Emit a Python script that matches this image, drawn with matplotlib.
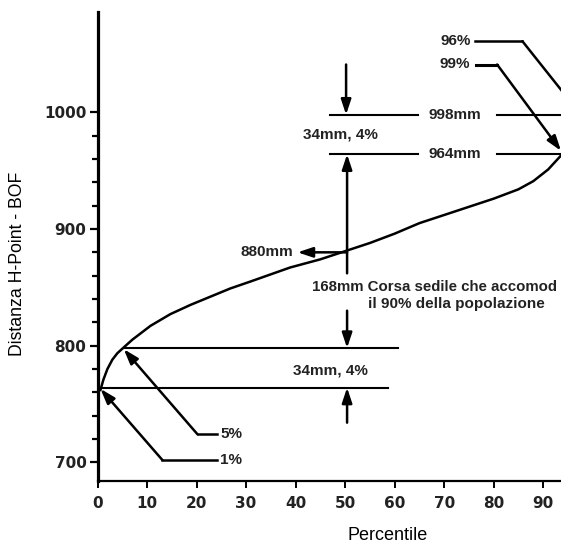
import matplotlib
matplotlib.use("Agg")
import matplotlib.pyplot as plt
from matplotlib.ticker import FixedLocator

# curve (percentile -> H-Point distance, mm)
percentile = [0.6, 1.2, 2.0, 3.0, 4.0, 5.3, 7.0, 10.7, 14.7, 18.8, 22.8, 26.8,
              30.9, 34.9, 38.9, 45, 50, 55, 60, 65, 70, 75, 80, 85, 88, 91, 93.6]
distance_mm = [762, 771, 780, 788, 793.5, 798.5, 805, 817, 827, 835, 842, 849,
               855, 861, 867, 874, 881, 888, 896, 905, 912, 919, 926, 934, 941, 951, 963]

x_ticks = [0, 10, 20, 30, 40, 50, 60, 70, 80, 90]
y_ticks = [700, 800, 900, 1000]
y_minor = [720, 740, 760, 780, 820, 840, 860, 880, 920, 940, 960, 980]

# reference levels (mm)
lvl_1, lvl_5, lvl_50, lvl_95, lvl_99 = 764, 798, 880, 964, 998

ANN = dict(family="Liberation Sans", fontweight="bold", fontsize=11, color="#222222")
ARROW = dict(arrowstyle="-|>,head_length=0.9,head_width=0.3", color="black",
             lw=1.8, shrinkA=0, shrinkB=0, mutation_scale=10)

fig = plt.figure(figsize=(5.61, 5.43), dpi=100)
ax = fig.add_axes([97.5 / 561, 1 - 481 / 543, 1 - 97.5 / 561, 469 / 543])

ax.plot(percentile, distance_mm, color="black", lw=1.8)

ax.set_xlim(0, 93.6)
ax.set_ylim(684, 1086)
ax.spines["top"].set_visible(False)
ax.spines["right"].set_visible(False)
ax.spines["left"].set_linewidth(2.3)
ax.spines["bottom"].set_linewidth(1.6)

ax.set_xticks(x_ticks)
ax.set_yticks(y_ticks)
ax.yaxis.set_minor_locator(FixedLocator(y_minor))
ax.tick_params(axis="y", which="major", length=6, width=1.6, pad=2)
ax.tick_params(axis="y", which="minor", length=4, width=1.6)
ax.tick_params(axis="x", which="major", length=5, width=1.4, pad=6)
for lab in ax.get_xticklabels() + ax.get_yticklabels():
    lab.set_family("DejaVu Sans")
    lab.set_fontweight("bold")
    lab.set_fontsize(11)
    lab.set_color("#222222")

ax.set_xlabel("Percentile", family="Liberation Sans", fontsize=13)
ax.xaxis.set_label_coords(0.626, -0.098)
ax.set_ylabel("Distanza H-Point - BOF", family="Liberation Sans", fontsize=12.7)
ax.yaxis.set_label_coords(-0.155, 0.464)

# upper levels 998 / 964
for lvl, txt in [(lvl_99, "998mm"), (lvl_95, "964mm")]:
    ax.plot([47.0, 64.8], [lvl, lvl], color="black", lw=1.5)
    ax.plot([80.7, 100], [lvl, lvl], color="black", lw=1.5, clip_on=False)
    ax.text(72.2, lvl, txt, ha="center", va="center", **ANN)

ax.annotate("", xy=(50.2, lvl_99), xytext=(50.2, 1041), arrowprops=ARROW)
ax.text(49, 981, "34mm, 4%", ha="center", va="center", **ANN)
ax.annotate("", xy=(50.4, lvl_95), xytext=(50.4, 862), arrowprops=ARROW)

# 96% / 99% leaders
ax.text(75.3, 1061, "96%", ha="right", va="center", **ANN)
ax.plot([76.3, 85.8], [1061, 1061], color="black", lw=1.8)
ax.annotate("", xy=(97.6, lvl_99), xytext=(85.8, 1061), arrowprops=ARROW,
            annotation_clip=False)
ax.text(75.3, 1041, "99%", ha="right", va="center", **ANN)
ax.plot([76.5, 80.7], [1041, 1041], color="black", lw=2.2)
ax.annotate("", xy=(93.6, 967), xytext=(80.7, 1041), arrowprops=ARROW,
            annotation_clip=False)

# 50th percentile
ax.annotate("", xy=(40.4, lvl_50), xytext=(50.4, lvl_50), arrowprops=ARROW)
ax.text(28.9, lvl_50, "880mm", ha="left", va="center", **ANN)
ax.text(43.4, 850, "168mm Corsa sedile che accomod", ha="left", va="center",
        **{**ANN, "fontsize": 10.8})
ax.text(54.7, 836, "il 90% della popolazione", ha="left", va="center", **ANN)

# lower levels 798 / 764
ax.annotate("", xy=(50.4, lvl_5), xytext=(50.4, 830), arrowprops=ARROW)
ax.plot([5.3, 60.7], [lvl_5, lvl_5], color="black", lw=1.5)
ax.text(47, 779, "34mm, 4%", ha="center", va="center", **ANN)
ax.plot([0, 58.7], [lvl_1, lvl_1], color="black", lw=1.5)
ax.annotate("", xy=(50.4, lvl_1), xytext=(50.4, 734), arrowprops=ARROW)

# 5% / 1% leaders
ax.plot([24.2, 20.2], [724, 724], color="black", lw=1.8)
ax.annotate("", xy=(5.3, 797), xytext=(20.2, 724), arrowprops=ARROW)
ax.text(24.8, 724, "5%", ha="left", va="center", **ANN)
ax.plot([24.2, 13.1], [702, 702], color="black", lw=1.8)
ax.annotate("", xy=(0.6, 763), xytext=(13.1, 702), arrowprops=ARROW)
ax.text(24.8, 702, "1%", ha="left", va="center", **ANN)

fig.savefig("out.png", dpi=100)
